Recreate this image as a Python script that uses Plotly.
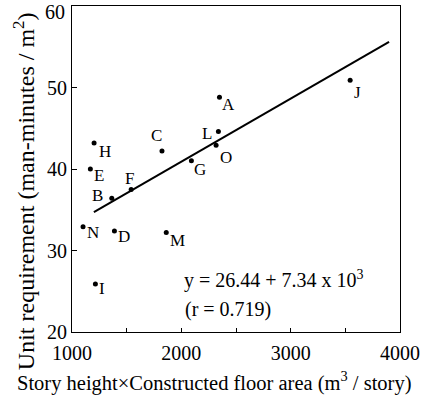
import plotly.graph_objects as go

# Data
labels = ["A", "B", "C", "D", "E", "F", "G", "H", "I", "J", "L", "M", "N", "O"]
x_vals = [2349, 1364, 1823, 1388, 1168, 1541, 2092, 1202, 1214, 3544, 2339, 1862, 1101, 2318]
y_vals = [48.8, 36.4, 42.2, 32.4, 40.0, 37.5, 41.0, 43.2, 25.9, 50.9, 44.6, 32.2, 32.9, 42.9]

# Regression line endpoints
line_x = [1200, 3900]
line_y = [34.7, 55.6]

x_ticks = [1000, 1500, 2000, 2500, 3000, 3500, 4000]
x_ticktext = ["1000", "", "2000", "", "3000", "", "4000"]
y_ticks = [20, 30, 40, 50, 60]
y_ticktext = ["20", "30", "40", "50", ""]   # "60" drawn separately, nudged down as in the reference

eq_text = "y = 26.44 + 7.34 x 10<sup>3</sup>"
r_text = "(r = 0.719)"
x_title = "Story height×Constructed floor area (m<sup>3</sup> / story)"
y_title = "Unit requirement (man-minutes / m<sup>2</sup>)"

# label offsets in pixels (dx right, dy down)
label_offsets = {
    "A": (9, 7), "B": (-14, -3), "C": (-5, -16), "D": (10, 6), "E": (9, 6),
    "F": (-2, -11), "G": (9, 9), "H": (11, 9), "I": (7, 5), "J": (7, 12),
    "L": (-11, 2), "M": (11, 8), "N": (10, 6), "O": (10, 12),
}

FONT = "Liberation Serif, Times New Roman, serif"

fig = go.Figure()
fig.add_trace(go.Scatter(x=line_x, y=line_y, mode="lines",
                         line=dict(color="black", width=2), showlegend=False,
                         hoverinfo="skip"))
fig.add_trace(go.Scatter(x=x_vals, y=y_vals, mode="markers",
                         marker=dict(color="black", size=5), showlegend=False,
                         text=labels))

annotations = []
for lab, xv, yv in zip(labels, x_vals, y_vals):
    dx, dy = label_offsets[lab]
    annotations.append(dict(x=xv, y=yv, text=lab, showarrow=False,
                            xshift=dx, yshift=-dy, xanchor="center", yanchor="middle",
                            font=dict(family=FONT, size=17, color="black")))

annotations.append(dict(xref="x", yref="y", x=2010, y=26.5, text=eq_text,
                        showarrow=False, xanchor="left", yanchor="middle",
                        font=dict(family=FONT, size=20, color="black")))
annotations.append(dict(xref="x", yref="y", x=2018, y=22.8, text=r_text,
                        showarrow=False, xanchor="left", yanchor="middle",
                        font=dict(family=FONT, size=20, color="black")))

# "60" tick label, nudged down inside the figure as in the reference
annotations.append(dict(xref="paper", yref="y", x=0, y=y_ticks[-1], text=str(y_ticks[-1]),
                        showarrow=False, xanchor="right", yanchor="middle",
                        xshift=-5, yshift=-6,
                        font=dict(family=FONT, size=20, color="black")))

# Axis titles, centred on the whole figure as in the reference
annotations.append(dict(xref="paper", yref="paper", x=0.433, y=0, text=x_title,
                        showarrow=False, xanchor="center", yanchor="middle",
                        yshift=-49, font=dict(family=FONT, size=20.5, color="black")))
annotations.append(dict(xref="paper", yref="paper", x=0, y=0.432, text=y_title,
                        showarrow=False, xanchor="center", yanchor="middle",
                        textangle=-90, xshift=-48,
                        font=dict(family=FONT, size=24, color="black")))

fig.update_layout(
    width=422, height=396,
    margin=dict(l=72, r=22, t=6, b=64),
    paper_bgcolor="white", plot_bgcolor="white",
    font=dict(family=FONT, size=20, color="black"),
    annotations=annotations,
    xaxis=dict(range=[1000, 4000], tickvals=x_ticks, ticktext=x_ticktext,
               ticks="inside", ticklen=4, tickwidth=1, tickcolor="black",
               showline=True, linecolor="black", linewidth=1, mirror=True,
               showgrid=False, zeroline=False, automargin=False,
               ticklabelstandoff=3,
               tickfont=dict(family=FONT, size=20)),
    yaxis=dict(range=[20, 60], tickvals=y_ticks, ticktext=y_ticktext,
               ticks="inside", ticklen=5, tickwidth=1, tickcolor="black",
               showline=True, linecolor="black", linewidth=1, mirror=True,
               showgrid=False, zeroline=False, automargin=False,
               tickfont=dict(family=FONT, size=20)),
)

fig.write_html("out.html", config={"displayModeBar": False},
               post_script="document.body.style.margin='0px';document.body.style.overflow='hidden';")
